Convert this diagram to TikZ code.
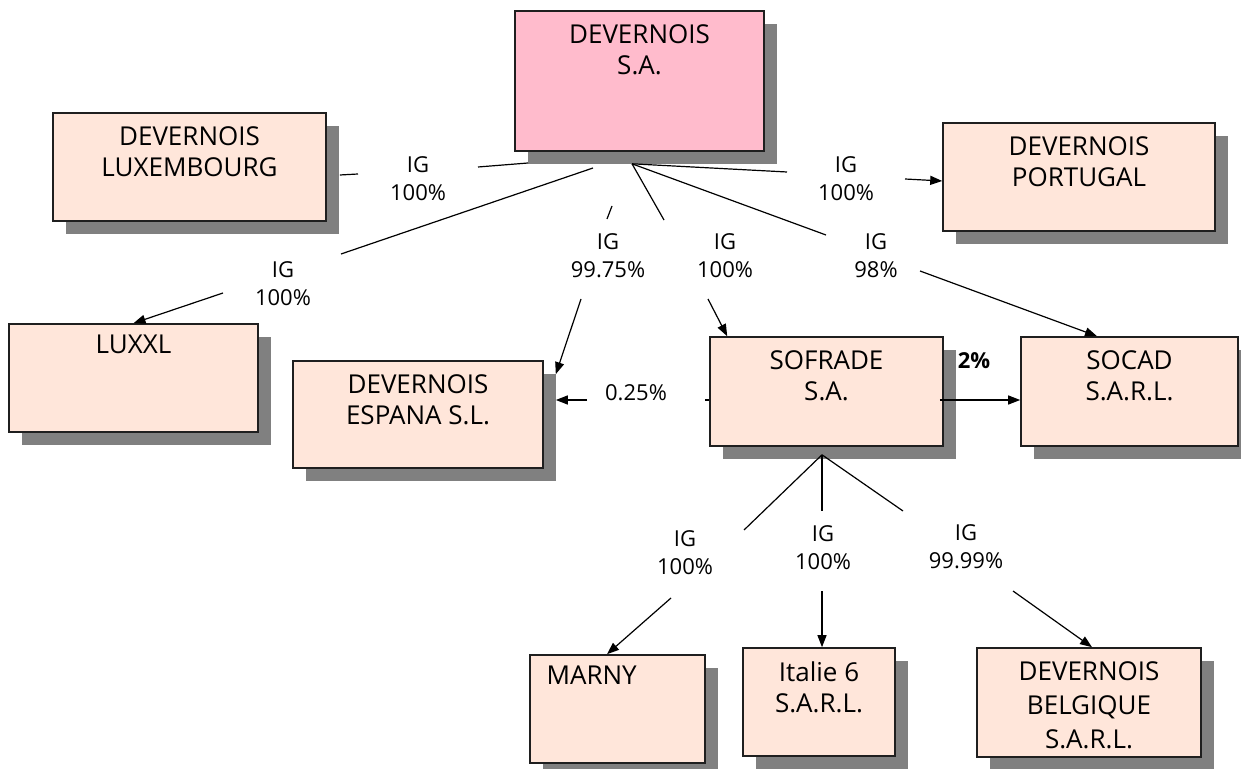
\documentclass[tikz,border=0pt]{standalone}
\usepackage{fontspec}
\setmainfont{Open Sans}
\usetikzlibrary{positioning, shadows, arrows.meta, calc}
\definecolor{boxfill}{RGB}{255,230,218}
\definecolor{topfill}{RGB}{255,187,204}
\tikzset{>={Triangle[length=6pt,width=4.5pt]}}
\tikzset{
    company/.style = {rectangle, draw=black!88, line width=0.8pt, fill=boxfill,
                        drop shadow={shadow xshift=6.5pt, shadow yshift=-6.5pt, fill=black!50, opacity=1}},
    boxtext/.style = {font=\fontsize{13}{15.5}\selectfont, align=center, inner sep=0pt,
                        anchor=north, yshift=-7pt},
    share/.style = {font=\fontsize{11}{14}\selectfont, align=center, inner sep=0pt},
    link/.style = {line width=0.6pt}
}

\begin{document}
\begin{tikzpicture}[x=0.5pt, y=-0.5pt]
		\useasboundingbox (0,0) rectangle (1241,769);
		% companies
		\node (top) [company, fill=topfill, minimum width=124.5pt, minimum height=70pt,
			label={[boxtext]north:{DEVERNOIS\\S.A.}}] at (639.5,81) {};
		\node (lux) [company, minimum width=136.5pt, minimum height=54pt,
			label={[boxtext]north:{DEVERNOIS\\LUXEMBOURG}}] at (189.5,167) {};
		\node (port) [company, minimum width=136pt, minimum height=54pt,
			label={[boxtext]north:{DEVERNOIS\\PORTUGAL}}] at (1079,177) {};
		\node (luxxl) [company, minimum width=124.5pt, minimum height=54pt,
			label={[boxtext, yshift=1.5pt]north:{LUXXL}}] at (133.5,378) {};
		\node (espana) [company, minimum width=125pt, minimum height=53.5pt,
			label={[boxtext]north:{DEVERNOIS\\ESPANA S.L.}}] at (418,414.5) {};
		\node (sofrade) [company, minimum width=116.5pt, minimum height=54.5pt,
			label={[boxtext]north:{SOFRADE\\S.A.}}] at (826.5,391.5) {};
		\node (socad) [company, minimum width=108.5pt, minimum height=54.5pt,
			label={[boxtext]north:{SOCAD\\S.A.R.L.}}] at (1129.5,391.5) {};
		\node (marny) [company, minimum width=87.5pt, minimum height=54pt,
			label={[boxtext, anchor=north west, xshift=8.5pt, yshift=1.5pt]north west:{MARNY}}] at (617.5,709) {};
		\node (italie) [company, minimum width=76pt, minimum height=54pt,
			label={[boxtext]north:{Italie 6\\S.A.R.L.}}] at (819,702) {};
		\node (belg) [company, minimum width=112pt, minimum height=54.5pt,
			label={[boxtext, font=\fontsize{13}{17}\selectfont]north:{DEVERNOIS\\BELGIQUE\\S.A.R.L.}}] at (1089,702.5) {};

		% percentages
		\node (sLux) [share] at (418,179) {IG\\100\%};
		\node (sLuxxl) [share] at (283,284) {IG\\100\%};
		\node (sEsp) [share] at (608,256) {IG\\99.75\%};
		\node (sSof) [share] at (725,256) {IG\\100\%};
		\node (sSoc) [share] at (876,256) {IG\\98\%};
		\node (sPort) [share] at (846,179) {IG\\100\%};
		\node (sMarny) [share] at (685,553) {IG\\100\%};
		\node (sItal) [share] at (823,548) {IG\\100\%};
		\node (sBelg) [share] at (966,547) {IG\\99.99\%};
		\node (sEsp2) [share] at (636,393) {0.25\%};
		\node (sSoc2) [share, font=\fontsize{11}{14}\selectfont\bfseries] at (974,361) {2\%};

		% break points of the links
		\coordinate (fan) at ($(top.south)+(-7.5,12)$);
		\coordinate (fanW) at (593,168);
		\coordinate (luxA) at (528,163);
		\coordinate (luxB) at (478,167);
		\coordinate (luxC) at (358,174);
		\coordinate (luxD) at ($(lux.east)+(13,8)$);
		\coordinate (xlA) at (341,254);
		\coordinate (xlB) at (223,293);
		\coordinate (esA) at (612,206);
		\coordinate (esB) at (607,219);
		\coordinate (esC) at (581,299);
		\coordinate (esD) at ($(espana.north east)+(12,14)$);
		\coordinate (soA) at (664,220);
		\coordinate (soB) at (708,299);
		\coordinate (skA) at (826,235);
		\coordinate (skB) at (920,271);
		\coordinate (ptA) at (787,172);
		\coordinate (ptB) at (905,179);
		\coordinate (sfW) at ($(sofrade.west)+(-4,8.5)$);
		\coordinate (esW) at (587,400);
		\coordinate (sfE) at ($(sofrade.east)+(-4,8.5)$);
		\coordinate (subfan) at ($(sofrade.south)+(-4.5,8)$);
		\coordinate (mA) at (744,530);
		\coordinate (mB) at (671,598);
		\coordinate (iA) at (822,511);
		\coordinate (iB) at (822,591);
		\coordinate (bA) at (903,511);
		\coordinate (bB) at (1013,591);

		% links
		\draw [link] (luxA) -- (luxB);
		\draw [link] (luxC) -- (luxD);
		\draw [link] (fanW) -- (xlA);
		\draw [link, ->] (xlB) -- (luxxl.north);
		\draw [link] (esA) -- (esB);
		\draw [link, ->] (esC) -- (esD);
		\draw [link] (fan) -- (soA);
		\draw [link, ->] (soB) -- ($(sofrade.north west)+(18,0)$);
		\draw [link] (fan) -- (skA);
		\draw [link, ->] (skB) -- ($(socad.north)+(-32.5,0)$);
		\draw [link] (fan) -- (ptA);
		\draw [link, ->] (ptB) -- ($(port.west)+(0,4)$);
		\draw [link] (sfW) -- ($(sofrade.west)+(0,8.5)$);
		\draw [link, ->] (esW) -- ($(espana.east)+(12,-14.5)$);
		\draw [link, ->] (sfE) -- ($(socad.west)+(0,8.5)$);
		\draw [link] (subfan) -- (mA);
		\draw [link] (subfan) -- (iA);
		\draw [link] (subfan) -- (bA);
		\draw [link, ->] (mB) -- ($(marny.north)+(-10.5,0)$);
		\draw [link, ->] (iB) -- ($(italie.north)+(3,0)$);
		\draw [link, ->] (bB) -- ($(belg.north)+(3,0)$);
	\end{tikzpicture}
\end{document}
